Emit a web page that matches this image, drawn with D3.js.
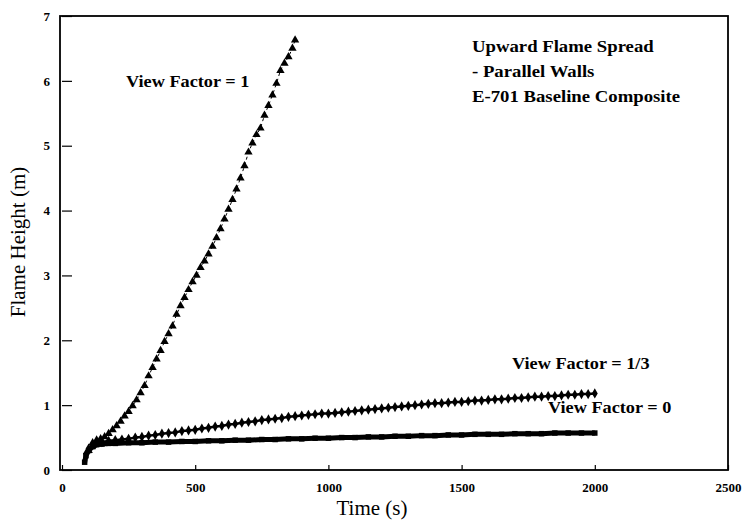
<!DOCTYPE html>
<html>
<head>
<meta charset="utf-8">
<script src="https://cdn.jsdelivr.net/npm/d3@7"></script>
<style>
  body { margin: 0; background: #fff; }
  text { font-family: "Liberation Serif", "Times New Roman", serif; fill: #000; }
</style>
</head>
<body>
<div id="chart"></div>
<script>
// chart data
var xTicks = [0, 500, 1000, 1500, 2000, 2500];
var yTicks = [0, 1, 2, 3, 4, 5, 6, 7];

// View Factor = 1 (triangles)
var vf1Time = [100, 115, 130, 145, 160, 175, 190, 205, 220, 235, 250, 265, 280, 295, 310, 325,
  340, 355, 370, 385, 400, 415, 430, 445, 460, 475, 490, 505, 520, 535, 550, 565, 580, 595,
  610, 625, 640, 655, 670, 685, 700, 715, 730, 745, 760, 775, 790, 805, 820, 835, 850, 865, 875];
var vf1Height = [0.30, 0.42, 0.46, 0.48, 0.51, 0.56, 0.62, 0.68, 0.75, 0.83, 0.90, 0.99, 1.08,
  1.19, 1.30, 1.45, 1.58, 1.71, 1.84, 1.98, 2.10, 2.22, 2.40, 2.53, 2.66, 2.78, 2.90, 3.00,
  3.12, 3.22, 3.33, 3.45, 3.58, 3.72, 3.87, 4.02, 4.17, 4.33, 4.50, 4.69, 4.90, 5.04, 5.17,
  5.27, 5.47, 5.62, 5.78, 5.96, 6.16, 6.27, 6.37, 6.50, 6.63];

// View Factor = 1/3 (diamonds)
var vf3Time = [90, 100, 125, 150, 175, 200, 225, 250, 275, 300, 325, 350, 375, 400, 425, 450,
  475, 500, 525, 550, 575, 600, 625, 650, 675, 700, 725, 750, 775, 800, 825, 850, 875, 900,
  925, 950, 975, 1000, 1025, 1050, 1075, 1100, 1125, 1150, 1175, 1200, 1225, 1250, 1275, 1300,
  1325, 1350, 1375, 1400, 1425, 1450, 1475, 1500, 1525, 1550, 1575, 1600, 1625, 1650, 1675,
  1700, 1725, 1750, 1775, 1800, 1825, 1850, 1875, 1900, 1925, 1950, 1975, 2000];
var vf3Height = [0.25, 0.33, 0.40, 0.43, 0.45, 0.46, 0.47, 0.48, 0.50, 0.51, 0.53, 0.54, 0.56,
  0.57, 0.58, 0.60, 0.61, 0.62, 0.64, 0.65, 0.67, 0.68, 0.70, 0.71, 0.73, 0.74, 0.75, 0.77,
  0.78, 0.79, 0.80, 0.82, 0.83, 0.84, 0.85, 0.86, 0.87, 0.87, 0.88, 0.89, 0.90, 0.91, 0.92,
  0.93, 0.94, 0.95, 0.96, 0.97, 0.98, 0.99, 1.00, 1.01, 1.02, 1.03, 1.03, 1.04, 1.05, 1.05,
  1.06, 1.07, 1.07, 1.08, 1.09, 1.09, 1.10, 1.11, 1.11, 1.12, 1.13, 1.13, 1.14, 1.14, 1.15,
  1.16, 1.16, 1.17, 1.17, 1.18];

// View Factor = 0 (squares)
var vf0Time = [85, 90, 100, 115, 130, 150, 175, 200, 250, 300, 350, 400, 450, 500, 550, 600,
  650, 700, 750, 800, 850, 900, 950, 1000, 1050, 1100, 1150, 1200, 1250, 1300, 1350, 1400,
  1450, 1500, 1550, 1600, 1650, 1700, 1750, 1800, 1850, 1900, 1950, 2000];
var vf0Height = [0.12, 0.22, 0.30, 0.36, 0.39, 0.40, 0.41, 0.41, 0.42, 0.42, 0.43, 0.43, 0.44,
  0.44, 0.45, 0.45, 0.46, 0.46, 0.47, 0.47, 0.48, 0.48, 0.49, 0.49, 0.50, 0.50, 0.51, 0.51,
  0.52, 0.52, 0.53, 0.53, 0.54, 0.54, 0.55, 0.55, 0.55, 0.56, 0.56, 0.56, 0.57, 0.57, 0.57, 0.57];

var seriesLabels = ["View Factor = 1", "View Factor = 1/3", "View Factor = 0"];
var titleLines = ["Upward Flame Spread", "- Parallel Walls", "E-701 Baseline Composite"];

var width = 744, height = 524;
var margin = {left: 62, right: 728, top: 16, bottom: 470};

var svg = d3.select("#chart")
  .append("svg")
    .attr("width", width)
    .attr("height", height);

var x = d3.scaleLinear().domain([0, 2500]).range([margin.left, margin.right]);
var y = d3.scaleLinear().domain([0, 7]).range([margin.bottom, margin.top]);

function pairs(t, h) {
  return t.map(function(d, i) { return [d, h[i]]; });
}

function styleAxis(g) {
  g.select(".domain").remove();
  g.selectAll("line").attr("stroke", "#000").attr("stroke-width", 1.2);
  g.selectAll("text")
    .style("font-family", "Liberation Serif")
    .style("font-size", "13px")
    .style("font-weight", "bold");
}

// the scanned lettering is wider than Times, so stretch it a bit
function widen(sel, k) {
  sel.each(function() {
    var w = this.getComputedTextLength();
    d3.select(this).attr("textLength", w * k).attr("lengthAdjust", "spacingAndGlyphs");
  });
}

// X axis, ticks pointing inward
svg.append("g")
  .attr("transform", "translate(0," + margin.bottom + ")")
  .call(d3.axisBottom(x).tickValues(xTicks).tickSize(-5).tickPadding(13).tickFormat(d3.format("d")))
  .call(styleAxis);

// Y axis
svg.append("g")
  .attr("transform", "translate(" + margin.left + ",0)")
  .call(d3.axisLeft(y).tickValues(yTicks).tickSize(-10).tickPadding(12).tickFormat(d3.format("d")))
  .call(styleAxis);

// frame
svg.append("rect")
  .attr("x", margin.left - 2)
  .attr("y", margin.top)
  .attr("width", margin.right - margin.left + 2)
  .attr("height", margin.bottom - margin.top)
  .attr("fill", "none")
  .attr("stroke", "#000")
  .attr("stroke-width", 1.8);

var line = d3.line()
  .x(function(d) { return x(d[0]); })
  .y(function(d) { return y(d[1]); });

// View Factor = 0
var vf0 = pairs(vf0Time, vf0Height);
svg.append("path")
  .datum(vf0)
  .attr("d", line)
  .attr("fill", "none")
  .attr("stroke", "#000")
  .attr("stroke-width", 5);
svg.selectAll(".sq")
  .data(vf0)
  .enter().append("path")
    .attr("class", "sq")
    .attr("d", d3.symbol().type(d3.symbolSquare).size(30))
    .attr("transform", function(d) { return "translate(" + x(d[0]) + "," + y(d[1]) + ")"; })
    .attr("fill", "#000");

// View Factor = 1/3
var vf3 = pairs(vf3Time, vf3Height);
svg.append("path")
  .datum(vf3)
  .attr("d", line)
  .attr("fill", "none")
  .attr("stroke", "#000")
  .attr("stroke-width", 2.5);
svg.selectAll(".dm")
  .data(vf3)
  .enter().append("path")
    .attr("class", "dm")
    .attr("d", d3.symbol().type(d3.symbolDiamond).size(30))
    .attr("transform", function(d) { return "translate(" + x(d[0]) + "," + y(d[1]) + ")"; })
    .attr("fill", "#000");

// View Factor = 1
var vf1 = pairs(vf1Time, vf1Height);
svg.append("path")
  .datum(vf1)
  .attr("d", line)
  .attr("fill", "none")
  .attr("stroke", "#000")
  .attr("stroke-width", 1)
  .attr("stroke-dasharray", "3,3");
svg.selectAll(".tri")
  .data(vf1)
  .enter().append("path")
    .attr("class", "tri")
    .attr("d", d3.symbol().type(d3.symbolTriangle).size(30))
    .attr("transform", function(d) { return "translate(" + x(d[0]) + "," + y(d[1]) + ")"; })
    .attr("fill", "#000");

// series labels
var labelPos = [[126, 87], [512, 369], [548, 413]];
svg.selectAll(".vlabel")
  .data(seriesLabels)
  .enter().append("text")
    .attr("class", "vlabel")
    .attr("x", function(d, i) { return labelPos[i][0]; })
    .attr("y", function(d, i) { return labelPos[i][1]; })
    .style("font-size", "16px")
    .style("font-weight", "bold")
    .text(function(d) { return d; })
    .call(widen, 1.14);

// title block
svg.selectAll(".title")
  .data(titleLines)
  .enter().append("text")
    .attr("class", "title")
    .attr("x", 472)
    .attr("y", function(d, i) { return 52 + i * 25; })
    .style("font-size", "17.5px")
    .style("font-weight", "bold")
    .text(function(d) { return d; })
    .call(widen, 1.07);

// axis labels
svg.append("text")
  .attr("x", 372)
  .attr("y", 515)
  .style("text-anchor", "middle")
  .style("font-size", "21px")
  .text("Time (s)");

svg.append("text")
  .attr("transform", "rotate(-90)")
  .attr("x", -242)
  .attr("y", 25)
  .style("text-anchor", "middle")
  .style("font-size", "21px")
  .text("Flame Height (m)");
</script>
</body>
</html>
